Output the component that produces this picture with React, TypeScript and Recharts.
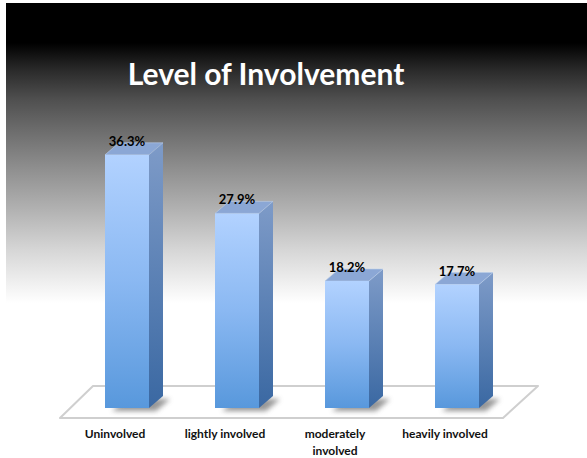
import React from 'react';
import { BarChart, Bar, XAxis, YAxis, Customized, useOffset } from 'recharts';

const categories = ['Uninvolved', 'lightly involved', 'moderately involved', 'heavily involved'];
const tickLines: string[][] = [['Uninvolved'], ['lightly involved'], ['moderately', 'involved'], ['heavily involved']];
const values = [36.3, 27.9, 18.2, 17.7];
const valueLabels = ['36.3%', '27.9%', '18.2%', '17.7%'];
const title = 'Level of Involvement';

const data = categories.map((c, i) => ({ name: c, value: values[i], label: valueLabels[i] }));

const W = 587;
const H = 458;
const DX = 14;
const DY = 12;
const FONT = 'Lato, "Open Sans", sans-serif';

const Bar3D = (props: any) => {
  const { x, y, width: w, height: h, payload } = props;
  if (w == null || h == null) return null;
  const front = `M${x},${y} L${x + w},${y} L${x + w},${y + h} L${x},${y + h} Z`;
  const side = `M${x + w},${y} L${x + w + DX},${y - DY} L${x + w + DX},${y + h - DY} L${x + w},${y + h} Z`;
  const top = `M${x},${y} L${x + DX},${y - DY} L${x + w + DX},${y - DY} L${x + w},${y} Z`;
  const b = y + h;
  const sx = 7;
  const sy = 3;
  const shadow = `M${x + sx},${b + sy} L${x + w + sx},${b + sy} L${x + w + DX + sx},${b - DY + sy} L${x + DX + sx},${b - DY + sy} Z`;
  return (
    <g>
      <path d={shadow} fill="#6a6a6a" opacity={0.7} filter="url(#blurShadow)" />
      <path d={side} fill="url(#sideGrad)" />
      <path d={top} fill="#8ba7d5" stroke="#b8cdea" strokeWidth={0.6} />
      <path d={front} fill="url(#frontGrad)" />
      <text
        x={x + w / 2}
        y={y - 9}
        textAnchor="middle"
        fontFamily={FONT}
        fontWeight={700}
        fontSize={13}
        fill="#000"
      >
        {payload.label}
      </text>
    </g>
  );
};

const Floor = () => {
  const off: any = useOffset();
  if (!off) return null;
  const left = off.left;
  const right = W - off.right;
  const base = H - off.bottom;
  const pts = `${left - 12},${base + 10} ${right - 9},${base + 10} ${right + 26},${base - 22} ${left + 21},${base - 22}`;
  return (
    <g>
      <polygon points={pts} fill="#ffffff" stroke="#cfcfcf" strokeWidth={2} strokeLinejoin="round" />
    </g>
  );
};

const Tick = (props: any) => {
  const { x, y, index } = props;
  const lines = tickLines[index] || [];
  return (
    <text x={x - 12} y={y + 22} textAnchor="middle" fontFamily={FONT} fontWeight={700} fontSize={12} fill="#111">
      {lines.map((l, i) => (
        <tspan key={i} x={x - 12} dy={i === 0 ? 0 : 17}>
          {l}
        </tspan>
      ))}
    </text>
  );
};

export default function App() {
  return (
    <div style={{ position: 'absolute', left: 0, top: 0, width: W, height: H, background: '#fff', overflow: 'hidden' }}>
      <svg width={W} height={H} style={{ position: 'absolute', left: 0, top: 0 }}>
        <defs>
          <linearGradient id="bgGrad" x1="0" y1="0" x2="0" y2="1">
            <stop offset="0" stopColor="#000" />
            <stop offset={40 / 300} stopColor="#000" />
            <stop offset={67 / 300} stopColor="#2a2a2a" />
            <stop offset={97 / 300} stopColor="#505050" />
            <stop offset={127 / 300} stopColor="#6c6c6c" />
            <stop offset={167 / 300} stopColor="#909090" />
            <stop offset={207 / 300} stopColor="#b2b2b2" />
            <stop offset={247 / 300} stopColor="#d6d6d6" />
            <stop offset={287 / 300} stopColor="#f5f5f5" />
            <stop offset="1" stopColor="#fff" />
          </linearGradient>
        </defs>
        <rect x={6} y={3} width={W - 6} height={300} fill="url(#bgGrad)" />
        <text x={266} y={85} textAnchor="middle" fontFamily={FONT} fontWeight={700} fontSize={30} fill="#fff">
          {title}
        </text>
      </svg>
      <div style={{ position: 'absolute', left: 0, top: 0 }}>
        <BarChart width={W} height={H} data={data} margin={{ top: 129, right: 75, bottom: 0, left: 72 }} barCategoryGap={0}>
          <defs>
            <linearGradient id="frontGrad" x1="0" y1="0" x2="0" y2="1">
              <stop offset="0" stopColor="#b2d2ff" />
              <stop offset="0.5" stopColor="#8ab8f2" />
              <stop offset="1" stopColor="#5898dc" />
            </linearGradient>
            <linearGradient id="sideGrad" x1="0" y1="0" x2="0" y2="1">
              <stop offset="0" stopColor="#7e9bc8" />
              <stop offset="1" stopColor="#3a68a2" />
            </linearGradient>
            <filter id="blurShadow" x="-50%" y="-50%" width="200%" height="200%">
              <feGaussianBlur stdDeviation="2.5" />
            </filter>
          </defs>
          <Customized component={<Floor />} />
          <XAxis dataKey="name" axisLine={false} tickLine={false} tick={<Tick />} height={50} interval={0} />
          <YAxis hide domain={[0, 40]} />
          <Bar dataKey="value" barSize={44} shape={<Bar3D />} isAnimationActive={false} />
        </BarChart>
      </div>
    </div>
  );
}
